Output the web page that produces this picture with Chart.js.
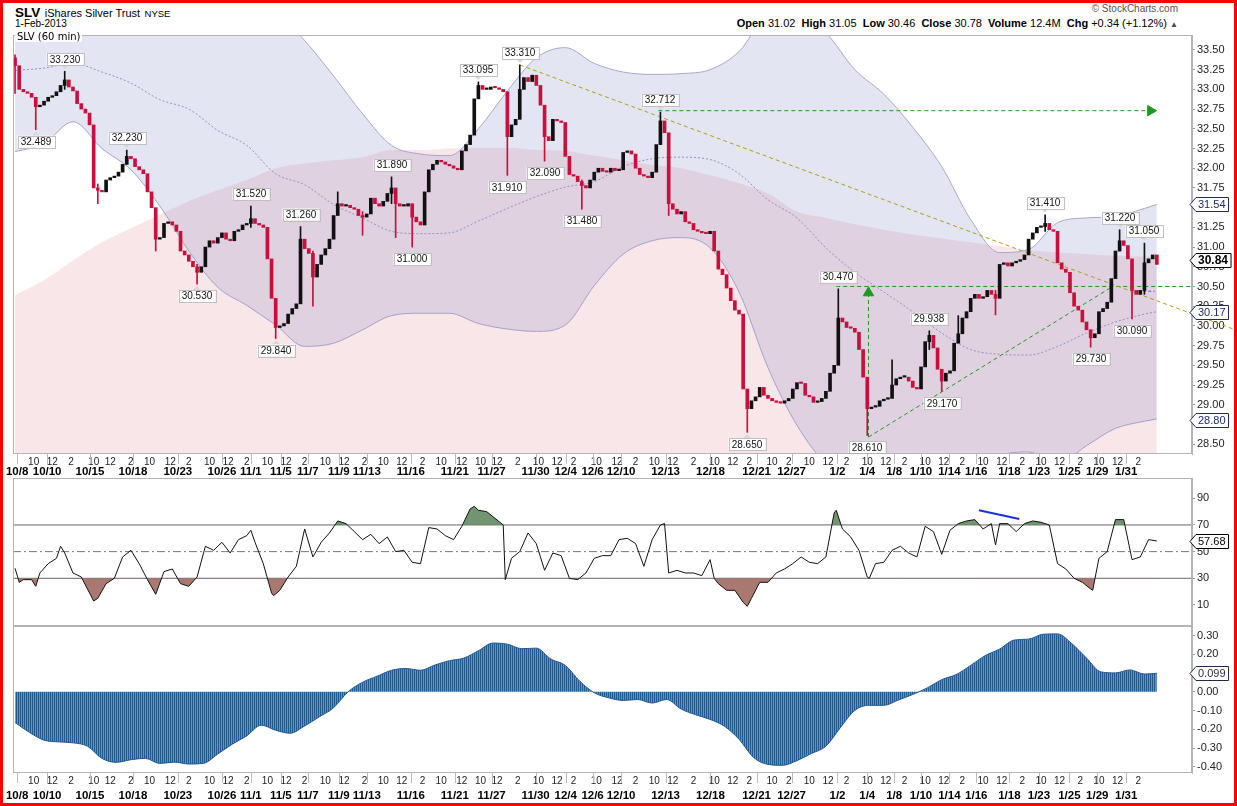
<!DOCTYPE html>
<html>
<head>
<meta charset="utf-8">
<script src="https://cdn.jsdelivr.net/npm/chart.js@4.4.1/dist/chart.umd.min.js"></script>
<style>
body { margin: 0; background: #fff; }
#wrap { position: relative; width: 1237px; height: 806px; overflow: hidden; background: #fff; font-family: 'Liberation Sans', Arial, sans-serif; }
#frame { position: absolute; left: 0; top: 0; width: 1237px; height: 806px; box-sizing: border-box; border: 3px solid #f00; pointer-events: none; z-index: 10; }
canvas { position: absolute; left: 0; }
.t { position: absolute; white-space: nowrap; color: #000; }
#legend { position: absolute; left: 15px; top: 31px; font: 10px 'DejaVu Sans', sans-serif; background: rgba(255,255,255,0.85); padding: 0 2px; z-index: 5; }
</style>
</head>
<body>
<div id="wrap">
  <div class="t" style="left:15px;top:3px;"><b style="font-size:13.5px;">SLV</b> <span style="font-size:11px;">iShares Silver Trust</span> <span style="font-size:9.5px;">NYSE</span></div>
  <div class="t" style="left:15px;top:18px;font-size:10px;">1-Feb-2013</div>
  <div class="t" style="right:59px;top:3px;font-size:10px;color:#555;">&#169; StockCharts.com</div>
  <div class="t" style="right:59px;top:17px;font-size:11px;"><b>Open</b> 31.02 &nbsp;<b>High</b> 31.05 &nbsp;<b>Low</b> 30.46 &nbsp;<b>Close</b> 30.78 &nbsp;<b>Volume</b> 12.4M &nbsp;<b>Chg</b> +0.34 (+1.12%) <span style="font-size:8px;color:#444;">&#9650;</span></div>
  <div id="legend">SLV (60 min)</div>
  <canvas id="priceChart" width="1237" height="450" style="top:28px;"></canvas>
  <canvas id="rsiChart" width="1237" height="148" style="top:478px;"></canvas>
  <canvas id="macdChart" width="1237" height="177" style="top:626px;"></canvas>
  <div id="frame"></div>
</div>
<script>
// x axis is in hourly bars (7 per trading day), candles sampled every 2 bars
const sampleStep = 2;
const xMin = -1, xMax = 569;

const firstOpen = 33.40;
const closes = [
  33.30, 33.00, 32.97, 32.95, 32.90, 32.78, 32.80, 32.85, 32.90, 32.92,
  32.97, 33.05, 33.12, 33.03, 32.98, 32.82, 32.75, 32.70, 32.55, 31.75,
  31.72, 31.70, 31.85, 31.88, 31.90, 31.95, 32.05, 32.15, 32.12, 32.02,
  31.98, 31.93, 31.70, 31.50, 31.10, 31.12, 31.30, 31.32, 31.28, 31.20,
  30.95, 30.90, 30.82, 30.75, 30.68, 30.75, 31.00, 31.08, 31.05, 31.12,
  31.18, 31.10, 31.08, 31.20, 31.22, 31.28, 31.30, 31.36, 31.30, 31.28,
  31.25, 30.85, 30.35, 29.98, 30.00, 30.03, 30.15, 30.22, 30.28, 31.10,
  30.98, 30.92, 30.62, 30.78, 30.90, 30.98, 31.10, 31.40, 31.55, 31.52,
  31.53, 31.50, 31.48, 31.40, 31.38, 31.42, 31.62, 31.55, 31.52, 31.58,
  31.68, 31.75, 31.55, 31.52, 31.52, 31.55, 31.38, 31.32, 31.28, 31.70,
  31.98, 32.05, 32.10, 32.08, 32.05, 32.03, 32.00, 31.98, 32.22, 32.30,
  32.42, 32.88, 33.05, 33.00, 33.00, 33.03, 33.02, 33.00, 32.97, 32.40,
  32.55, 32.62, 33.00, 33.15, 33.10, 33.18, 33.05, 32.80, 32.40, 32.35,
  32.62, 32.60, 32.58, 32.15, 31.92, 31.90, 31.83, 31.78, 31.75, 31.85,
  31.95, 32.00, 31.96, 31.95, 32.00, 31.97, 31.98, 32.20, 32.22, 32.18,
  32.00, 31.92, 31.90, 31.88, 31.95, 32.30, 32.60, 32.45, 31.55, 31.48,
  31.42, 31.45, 31.32, 31.30, 31.22, 31.20, 31.18, 31.17, 31.20, 30.95,
  30.72, 30.65, 30.48, 30.32, 30.20, 30.15, 29.20, 28.95, 29.05, 29.10,
  29.22, 29.12, 29.08, 29.05, 29.03, 29.02, 29.05, 29.08, 29.20, 29.28,
  29.27, 29.12, 29.10, 29.03, 29.04, 29.08, 29.17, 29.40, 29.50, 30.10,
  30.05, 29.98, 29.97, 29.92, 29.70, 29.35, 28.95, 28.97, 28.98, 29.05,
  29.07, 29.08, 29.25, 29.33, 29.35, 29.35, 29.30, 29.22, 29.20, 29.48,
  29.80, 29.88, 29.72, 29.45, 29.30, 29.40, 29.43, 29.78, 29.90, 30.10,
  30.18, 30.35, 30.40, 30.35, 30.37, 30.45, 30.40, 30.35, 30.78, 30.80,
  30.76, 30.80, 30.82, 30.84, 30.90, 31.10, 31.18, 31.25, 31.26, 31.30,
  31.22, 31.20, 30.80, 30.72, 30.68, 30.42, 30.25, 30.20, 30.05, 29.95,
  29.85, 29.90, 30.18, 30.22, 30.30, 30.60, 30.95, 31.08, 31.02, 30.85,
  30.45, 30.40, 30.45, 30.80, 30.85, 30.90, 30.78
];

// wicks that stick out (sample index, low, high)
const spikeIdx  = [0, 5, 12, 20, 27, 34, 44, 57, 63, 69, 72, 78, 84, 91, 92, 96, 112, 119, 122, 128, 137, 156, 158, 177, 199, 206, 212, 221, 224, 228, 237, 249, 260, 267, 270, 273];
const spikeLow  = [32.95, 32.489, 33.00, 31.55, 32.05, 30.95, 30.53, 31.25, 29.84, 30.30, 30.25, 31.45, 31.15, 31.55, 31.12, 31.00, 32.90, 31.91, 32.95, 32.09, 31.48, 32.30, 31.40, 28.65, 29.55, 28.61, 29.10, 29.70, 29.17, 29.80, 30.14, 31.20, 29.73, 30.95, 30.09, 30.40];
const spikeHigh = [33.44, 32.88, 33.23, 31.80, 32.23, 31.45, 30.78, 31.52, 30.05, 31.26, 30.95, 31.70, 31.45, 31.89, 31.60, 31.45, 33.095, 32.95, 33.31, 32.75, 31.85, 32.712, 32.40, 29.10, 30.47, 29.30, 29.57, 29.938, 29.45, 30.13, 30.45, 31.41, 29.95, 31.22, 30.65, 31.05];

// annotated highs / lows
const peakBars   = [24, 10, 54, 88, 114, 126, 138, 182, 192, 224, 238, 244, 256, 274, 312, 354, 398, 412, 442, 448, 498, 520, 534, 540, 546];
const peakValues = [33.230, 32.489, 32.230, 30.530, 31.520, 29.840, 31.260, 31.890, 31.000, 33.095, 31.910, 33.310, 32.090, 31.480, 32.712, 28.650, 30.470, 28.610, 29.938, 29.170, 31.410, 29.730, 31.220, 30.090, 31.050];
const peakSides  = ['H', 'L', 'H', 'L', 'H', 'L', 'H', 'H', 'L', 'H', 'L', 'H', 'L', 'L', 'H', 'L', 'H', 'L', 'H', 'L', 'H', 'L', 'H', 'L', 'H'];

// bollinger bands, sampled every 2 days
const bandBars = [0, 14, 28, 42, 56, 70, 84, 98, 112, 126, 140, 154, 168, 182, 196, 210, 224, 238, 252, 266, 280, 294, 308, 322, 336, 350, 364, 378, 392, 406, 420, 434, 448, 462, 476, 490, 504, 518, 532, 546, 552];
const blueUpper = [34.30, 34.30, 34.30, 34.40, 34.40, 34.30, 34.20, 34.10, 34.20, 34.00, 33.62, 33.17, 32.69, 32.29, 32.18, 32.16, 32.50, 32.98, 33.40, 33.53, 33.33, 33.22, 33.19, 33.20, 33.25, 33.48, 33.95, 34.00, 33.72, 33.25, 32.94, 32.52, 32.02, 31.35, 30.93, 30.97, 31.31, 31.37, 31.39, 31.49, 31.54];
const blueMid   = [33.24, 33.27, 33.33, 33.22, 33.08, 32.87, 32.75, 32.48, 32.29, 31.93, 31.79, 31.54, 31.37, 31.20, 31.17, 31.18, 31.33, 31.49, 31.64, 31.76, 31.83, 32.02, 32.12, 32.14, 32.11, 31.93, 31.60, 31.37, 30.99, 30.68, 30.43, 30.18, 29.91, 29.70, 29.64, 29.63, 29.74, 29.91, 30.05, 30.15, 30.18];
const blueLower = [32.21, 32.31, 32.59, 32.25, 31.98, 31.52, 30.95, 30.49, 30.26, 30.01, 29.74, 29.78, 29.95, 30.13, 30.16, 30.16, 30.03, 29.96, 29.93, 30.01, 30.51, 30.91, 31.08, 31.12, 30.99, 30.43, 29.47, 28.74, 28.26, 28.11, 27.92, 27.84, 27.80, 28.05, 28.35, 28.40, 28.25, 28.48, 28.70, 28.79, 28.82];
const pinkUpper = [30.39, 30.58, 30.83, 31.06, 31.24, 31.41, 31.58, 31.72, 31.85, 32.00, 32.06, 32.10, 32.14, 32.23, 32.23, 32.25, 32.26, 32.26, 32.23, 32.22, 32.16, 32.10, 32.04, 32.00, 31.91, 31.81, 31.68, 31.45, 31.37, 31.29, 31.22, 31.16, 31.11, 31.06, 31.01, 30.96, 30.93, 30.91, 30.89, 30.88, 30.87];
const pinkLower = [28.10, 28.05, 27.95, 27.90, 27.80, 27.75, 27.70, 27.65, 27.60, 27.55, 27.50, 27.50, 27.45, 27.40, 27.40, 27.40, 27.40, 27.45, 27.45, 27.50, 27.50, 27.50, 27.45, 27.40, 27.35, 27.30, 27.25, 27.20, 27.20, 27.15, 27.15, 27.10, 27.10, 27.10, 27.10, 27.15, 27.15, 27.20, 27.20, 27.25, 27.25];

const priceTicks = [28.50, 28.75, 29.00, 29.25, 29.50, 29.75, 30.00, 30.25, 30.50, 30.75, 31.00, 31.25, 31.50, 31.75, 32.00, 32.25, 32.50, 32.75, 33.00, 33.25, 33.50];

// RSI(14)
const rsiBars = [0, 2, 4, 8, 10, 12, 16, 20, 22, 24, 28, 32, 36, 38, 40, 44, 48, 52, 56, 60, 64, 68, 72, 76, 80, 84, 88, 92, 96, 100, 104, 108, 112, 114, 116, 120, 124, 125, 128, 132, 136, 140, 144, 148, 152, 156, 160, 164, 168, 172, 176, 180, 184, 188, 192, 196, 200, 204, 208, 212, 216, 220, 222, 224, 228, 232, 236, 237, 240, 244, 248, 252, 256, 260, 264, 268, 272, 276, 280, 284, 288, 292, 296, 300, 304, 308, 312, 314, 316, 320, 324, 328, 332, 336, 338, 340, 344, 348, 352, 354, 356, 360, 364, 368, 372, 376, 380, 384, 388, 392, 396, 397, 400, 404, 408, 412, 413, 416, 420, 424, 428, 432, 436, 440, 444, 448, 452, 456, 460, 464, 468, 472, 474, 476, 480, 484, 488, 492, 496, 500, 504, 508, 512, 516, 520, 521, 524, 528, 532, 536, 540, 544, 548, 552];
const rsiVals = [37.5, 27, 29, 29, 24, 34, 41, 45, 54, 49, 34, 31, 19, 13, 15, 26, 30, 46, 51, 41, 29, 18, 35, 37, 26, 24, 31, 54, 51, 57, 49, 59, 62, 66, 57, 41, 19, 17, 21, 31, 39, 67, 46, 57, 64, 73, 71, 65, 59, 63, 56, 61, 50, 51, 42, 41, 68, 67, 62, 59, 69, 82, 84, 81, 80, 75, 70, 29, 45, 50, 64, 56, 36, 49, 47, 30, 29, 34, 45, 47, 47, 59, 60, 56, 39, 59, 70, 71, 34, 36, 34, 34, 32, 44, 30, 26, 21, 21, 12, 9, 15, 27, 27, 34, 37, 41, 46, 42, 41, 46, 79, 81, 67, 61, 51, 31, 30, 41, 42, 51, 54, 49, 46, 69, 65, 48, 66, 71, 73, 74, 67, 71, 55, 71, 71, 65, 71, 73, 72, 70, 41, 37, 30, 27, 22, 21, 45, 50, 74, 74, 44, 46, 59, 58];
const rsiTicks = [10, 30, 50, 70, 90];
const rsiLevels = [30, 50, 70];

// MACD histogram, one reading per day
const macdBars = [0, 7, 14, 21, 28, 35, 42, 49, 56, 63, 70, 77, 84, 91, 98, 105, 112, 119, 126, 133, 140, 147, 154, 161, 168, 175, 182, 189, 196, 203, 210, 217, 224, 231, 238, 245, 252, 259, 266, 273, 280, 287, 294, 301, 308, 315, 322, 329, 336, 343, 350, 357, 364, 371, 378, 385, 392, 399, 406, 413, 420, 427, 434, 441, 448, 455, 462, 469, 476, 483, 490, 497, 504, 511, 518, 525, 532, 539, 546, 552];
const macdHist = [-0.164, -0.217, -0.258, -0.267, -0.272, -0.290, -0.355, -0.376, -0.362, -0.355, -0.382, -0.375, -0.385, -0.382, -0.332, -0.279, -0.235, -0.178, -0.205, -0.221, -0.182, -0.134, -0.085, 0.000, 0.051, 0.083, 0.115, 0.124, 0.115, 0.143, 0.166, 0.180, 0.219, 0.260, 0.254, 0.230, 0.233, 0.175, 0.141, 0.057, -0.005, -0.032, -0.046, -0.041, -0.060, -0.041, -0.092, -0.122, -0.147, -0.184, -0.253, -0.350, -0.387, -0.392, -0.367, -0.329, -0.290, -0.191, -0.099, -0.072, -0.072, -0.044, -0.014, 0.021, 0.065, 0.092, 0.141, 0.193, 0.228, 0.276, 0.281, 0.307, 0.309, 0.256, 0.180, 0.106, 0.101, 0.117, 0.095, 0.099];
const macdTicks = [0.30, 0.20, 0.10, 0.00, -0.10, -0.20, -0.30, -0.40];

// x axis labels
const hourPos = [9, 18, 27, 38, 46, 56, 65, 75, 84, 94, 103, 112, 122, 131, 140, 150, 159, 169, 178, 187, 197, 206, 216, 225, 233, 243, 253, 262, 270, 281, 291, 300, 309, 318, 328, 338, 347, 355, 366, 374, 384, 393, 402, 412, 421, 430, 440, 449, 458, 468, 477, 487, 496, 505, 515, 524, 533, 543];
const hourText = ['10', '12', '2', '10', '12', '2', '10', '12', '2', '10', '12', '2', '10', '12', '2', '10', '12', '2', '10', '12', '2', '10', '12', '10', '12', '2', '10', '12', '2', '10', '12', '2', '10', '12', '2', '10', '12', '2', '10', '2', '10', '12', '2', '10', '12', '2', '10', '12', '2', '10', '12', '2', '10', '12', '2', '10', '12', '2'];
const datePos = [1, 15.5, 36.2, 57, 78.7, 100, 114, 128.5, 141.5, 156.5, 170, 191.3, 212.6, 230.4, 251.7, 266.2, 279.2, 293, 314.5, 336.2, 358.5, 375.4, 397.6, 412, 425, 438, 451.7, 464.7, 480.7, 495, 509.7, 523.2, 537.2];
const dateText = ['10/8', '10/10', '10/15', '10/18', '10/23', '10/26', '11/1', '11/5', '11/7', '11/9', '11/13', '11/16', '11/21', '11/27', '11/30', '12/4', '12/6', '12/10', '12/13', '12/18', '12/21', '12/27', '1/2', '1/4', '1/8', '1/10', '1/14', '1/16', '1/18', '1/23', '1/25', '1/29', '1/31'];

const upColor = '#111111';
const downColor = '#c8103c';
const green = '#1e9a1e';
const sans = "'Liberation Sans', Arial, sans-serif";

// ---------- plugins ----------
const frameBox = {
    id: 'frameBox',
    afterDraw(chart) {
        const { ctx, chartArea: a } = chart;
        ctx.save();
        ctx.strokeStyle = '#b4b4b4';
        ctx.lineWidth = 1;
        ctx.strokeRect(Math.round(a.left) + 0.5, Math.round(a.top) + 0.5, Math.round(a.width) - 1, Math.round(a.height) - 1);
        ctx.restore();
    }
};

const dayMarks = {
    id: 'dayMarks',
    afterDraw(chart, args, opts) {
        if (!opts.on) return;
        const { ctx, chartArea: a } = chart;
        const x = chart.scales.x;
        ctx.save();
        ctx.strokeStyle = '#bbbbbb';
        ctx.lineWidth = 1;
        datePos.forEach(p => {
            const px = Math.round(x.getPixelForValue(p)) + 0.5;
            ctx.beginPath();
            ctx.moveTo(px, a.bottom);
            ctx.lineTo(px, a.bottom + 10);
            ctx.stroke();
        });
        ctx.restore();
    }
};

const tagPlugin = {
    id: 'tags',
    afterDraw(chart, args, opts) {
        const ctx = chart.ctx, y = chart.scales.y;
        const left = chart.chartArea.right - 2;
        (opts.items || []).forEach(t => {
            const py = Math.round(y.getPixelForValue(t.value)) + 0.5;
            ctx.save();
            ctx.font = (t.bold ? 'bold 12px ' : '11px ') + sans;
            const w = ctx.measureText(t.text).width + 5, h = 14;
            ctx.beginPath();
            ctx.moveTo(left, py);
            ctx.lineTo(left + 6, py - h / 2);
            ctx.lineTo(left + 6 + w, py - h / 2);
            ctx.lineTo(left + 6 + w, py + h / 2);
            ctx.lineTo(left + 6, py + h / 2);
            ctx.closePath();
            ctx.fillStyle = '#fff';
            ctx.fill();
            ctx.strokeStyle = t.color;
            ctx.lineWidth = 1;
            ctx.stroke();
            ctx.fillStyle = t.color;
            ctx.textBaseline = 'middle';
            ctx.fillText(t.text, left + 8, py + 0.5);
            ctx.restore();
        });
    }
};

const peakPlugin = {
    id: 'peaks',
    afterDatasetsDraw(chart, args, opts) {
        if (!opts.on) return;
        const { ctx } = chart;
        const x = chart.scales.x, y = chart.scales.y;
        ctx.save();
        ctx.font = '10px ' + sans;
        ctx.textAlign = 'center';
        ctx.textBaseline = 'middle';
        peakBars.forEach((b, i) => {
            const px = Math.round(x.getPixelForValue(b));
            const py = y.getPixelForValue(peakValues[i]);
            const up = peakSides[i] === 'H';
            const txt = peakValues[i].toFixed(3);
            const w = Math.ceil(ctx.measureText(txt).width) + 6, h = 12;
            const cy = up ? py - 12 : py + 12;
            const edge = up ? cy + h / 2 : cy - h / 2;
            ctx.fillStyle = '#d8d8d8';
            ctx.beginPath();
            ctx.moveTo(px, up ? py - 2 : py + 2);
            ctx.lineTo(px - 4, edge);
            ctx.lineTo(px + 4, edge);
            ctx.closePath();
            ctx.fill();
            ctx.fillStyle = '#fff';
            ctx.fillRect(px - w / 2, cy - h / 2, w, h);
            ctx.strokeStyle = '#c0c0c0';
            ctx.strokeRect(Math.round(px - w / 2) + 0.5, Math.round(cy - h / 2) + 0.5, w, h);
            ctx.fillStyle = '#111';
            ctx.fillText(txt, px, cy + 0.5);
        });
        ctx.restore();
    }
};

Chart.register(frameBox, dayMarks, tagPlugin, peakPlugin);

// ---------- helpers ----------
function pts(xs, ys) {
    return xs.map((v, i) => ({ x: v, y: ys[i] }));
}

function hourAxis(h) {
    return {
        type: 'linear', position: 'bottom', weight: 0, min: xMin, max: xMax, offset: false,
        grid: { display: false, drawTicks: false, offset: false }, border: { display: false },
        afterBuildTicks: ax => { ax.ticks = hourPos.map(v => ({ value: v })); },
        afterFit: ax => { ax.height = h; ax.paddingLeft = 0; ax.paddingRight = 0; },
        ticks: { autoSkip: false, maxRotation: 0, padding: 2, color: '#222', font: { size: 10, family: sans },
            callback: (v, i) => hourText[i] }
    };
}

function dateAxis(h) {
    return {
        type: 'linear', position: 'bottom', weight: 1, min: xMin, max: xMax, offset: false,
        grid: { display: false, drawTicks: false, offset: false }, border: { display: false },
        afterBuildTicks: ax => { ax.ticks = datePos.map(v => ({ value: v })); },
        afterFit: ax => { ax.height = h; ax.paddingLeft = 0; ax.paddingRight = 0; },
        ticks: { autoSkip: false, maxRotation: 0, padding: 0, color: '#000',
            font: { size: 11.5, weight: 'bold', family: sans },
            callback: (v, i) => dateText[i] }
    };
}

function rightAxis(min, max, ticks, fmt) {
    return {
        position: 'right', min: min, max: max,
        afterFit: ax => { ax.width = 45; ax.paddingTop = 0; ax.paddingBottom = 0; },
        afterBuildTicks: ax => { ax.ticks = ticks.map(v => ({ value: v })); },
        grid: { drawOnChartArea: false, drawTicks: true, tickLength: 3, color: '#999' },
        border: { display: true, color: '#b4b4b4' },
        ticks: { padding: 2, color: '#222', font: { size: 11, family: sans }, callback: fmt }
    };
}

// ---------- price panel ----------
const bodyData = closes.map((c, k) => ({ x: k * sampleStep, y: [k === 0 ? firstOpen : closes[k - 1], c] }));
const bodyColors = closes.map((c, k) => c >= (k === 0 ? firstOpen : closes[k - 1]) ? upColor : downColor);
const wickData = spikeIdx.map((k, i) => ({ x: k * sampleStep, y: [spikeLow[i], spikeHigh[i]] }));
const wickColors = spikeIdx.map(k => bodyColors[k]);

const bandLine = { type: 'line', pointRadius: 0, borderWidth: 1, cubicInterpolationMode: 'monotone' };

const priceChart = new Chart(document.getElementById('priceChart'), {
    type: 'bar',
    data: {
        datasets: [
            Object.assign({}, bandLine, { label: 'BB long upper', data: pts(bandBars, pinkUpper), borderWidth: 0,
                backgroundColor: 'rgba(220,130,140,0.2)', fill: '+1', order: 10 }),
            Object.assign({}, bandLine, { label: 'BB long lower', data: pts(bandBars, pinkLower), borderWidth: 0, fill: false, order: 10 }),
            Object.assign({}, bandLine, { label: 'BB upper', data: pts(bandBars, blueUpper), borderColor: '#a6a6cc',
                backgroundColor: 'rgba(120,125,190,0.2)', fill: '+1', order: 9 }),
            Object.assign({}, bandLine, { label: 'BB lower', data: pts(bandBars, blueLower), borderColor: '#a6a6cc', fill: false, order: 9 }),
            Object.assign({}, bandLine, { label: 'BB mid', data: pts(bandBars, blueMid), borderColor: '#9090c4',
                borderDash: [2, 2], fill: false, order: 8 }),
            { type: 'line', label: 'resistance', data: [{ x: 244, y: 33.31 }, { x: 590, y: 29.95 }], borderColor: '#a3a31c',
                borderWidth: 1, borderDash: [4, 3], pointRadius: 0, fill: false, clip: false, order: 4 },
            { type: 'line', label: 'target', data: [{ x: 311, y: 32.73 }, { x: 549, y: 32.73 }], borderColor: green,
                borderWidth: 1, borderDash: [4, 3], pointRadius: [0, 6], pointStyle: 'triangle', rotation: 90,
                pointBackgroundColor: green, pointBorderColor: green, fill: false, order: 4 },
            { type: 'line', label: 'breakout', data: [{ x: 397, y: 30.5 }, { x: xMax, y: 30.5 }], borderColor: green,
                borderWidth: 1, borderDash: [4, 3], pointRadius: 0, fill: false, order: 4 },
            { type: 'line', label: 'measure', data: [{ x: 412.6, y: 28.59 }, { x: 412.6, y: 30.42 }], borderColor: green,
                borderWidth: 1, borderDash: [4, 3], pointRadius: [0, 6], pointStyle: 'triangle', rotation: 0,
                pointBackgroundColor: green, pointBorderColor: green, fill: false, order: 4 },
            { type: 'line', label: 'support', data: [{ x: 412.6, y: 28.59 }, { x: 530, y: 30.49 }], borderColor: green,
                borderWidth: 1, borderDash: [4, 3], pointRadius: 0, fill: false, order: 4 },
            { type: 'line', label: 'pivot', data: [{ x: 543, y: 30.44 }, { x: 551, y: 30.44 }], borderColor: '#6b5bd6',
                borderWidth: 1, borderDash: [3, 2], pointRadius: 0, fill: false, order: 4 },
            { label: 'wicks', data: wickData, backgroundColor: wickColors, barThickness: 1, grouped: false, order: 2 },
            { label: 'SLV', data: bodyData, backgroundColor: bodyColors, barThickness: 3, minBarLength: 1.5, grouped: false, order: 1 }
        ]
    },
    options: {
        responsive: false,
        animation: false,
        events: [],
        layout: { padding: { left: 13, top: 2, right: 0, bottom: 0 } },
        scales: {
            x: hourAxis(11),
            xd: dateAxis(13),
            y: rightAxis(28.375, 33.69, priceTicks, v => v.toFixed(2))
        },
        plugins: {
            legend: { display: false },
            tooltip: { enabled: false },
            dayMarks: { on: true },
            peaks: { on: true },
            tags: { items: [
                { value: 31.54, text: '31.54', color: '#1c2a6e' },
                { value: 30.84, text: '30.84', color: '#000', bold: true },
                { value: 30.17, text: '30.17', color: '#1c2a6e' },
                { value: 28.81, text: '28.80', color: '#1c2a6e' }
            ] }
        }
    }
});

// ---------- RSI panel ----------
const rsiChart = new Chart(document.getElementById('rsiChart'), {
    type: 'line',
    data: {
        datasets: [
            { label: 'RSI', data: pts(rsiBars, rsiVals), borderColor: '#111', borderWidth: 1, pointRadius: 0,
                fill: { target: { value: 70 }, above: 'rgba(98,138,98,0.9)', below: 'rgba(0,0,0,0)' }, order: 1 },
            { label: 'RSI low', data: pts(rsiBars, rsiVals), borderWidth: 0, pointRadius: 0,
                fill: { target: { value: 30 }, above: 'rgba(0,0,0,0)', below: 'rgba(160,105,98,0.9)' }, order: 2 },
            { label: 'L30', data: [{ x: xMin, y: rsiLevels[0] }, { x: xMax, y: rsiLevels[0] }], borderColor: '#666', borderWidth: 1, pointRadius: 0, order: 3 },
            { label: 'L50', data: [{ x: xMin, y: rsiLevels[1] }, { x: xMax, y: rsiLevels[1] }], borderColor: '#777', borderWidth: 1,
                borderDash: [8, 3, 2, 3], pointRadius: 0, order: 3 },
            { label: 'L70', data: [{ x: xMin, y: rsiLevels[2] }, { x: xMax, y: rsiLevels[2] }], borderColor: '#666', borderWidth: 1, pointRadius: 0, order: 3 },
            { label: 'divergence', data: [{ x: 466, y: 81 }, { x: 485.5, y: 74.5 }], borderColor: '#1a30d8', borderWidth: 2, pointRadius: 0, order: 0 }
        ]
    },
    options: {
        responsive: false,
        animation: false,
        events: [],
        layout: { padding: { left: 13, top: 0, right: 0, bottom: 0 } },
        scales: {
            x: { type: 'linear', display: false, min: xMin, max: xMax },
            y: rightAxis(-5.75, 105.2, rsiTicks, v => String(v))
        },
        plugins: {
            legend: { display: false },
            tooltip: { enabled: false },
            tags: { items: [{ value: 57.68, text: '57.68', color: '#000' }] }
        }
    }
});

// ---------- MACD histogram panel ----------
function stripes() {
    const c = document.createElement('canvas');
    c.width = 2; c.height = 1;
    const g = c.getContext('2d');
    g.fillStyle = '#24598c'; g.fillRect(0, 0, 1, 1);
    g.fillStyle = '#4f98d2'; g.fillRect(1, 0, 1, 1);
    return g.createPattern(c, 'repeat');
}

const macdChart = new Chart(document.getElementById('macdChart'), {
    type: 'line',
    data: {
        datasets: [
            { label: 'MACD hist', data: pts(macdBars, macdHist), borderColor: '#24588a', borderWidth: 1, pointRadius: 0,
                backgroundColor: stripes(), fill: 'origin', cubicInterpolationMode: 'monotone' }
        ]
    },
    options: {
        responsive: false,
        animation: false,
        events: [],
        layout: { padding: { left: 13, top: 0, right: 0, bottom: 0 } },
        scales: {
            x: hourAxis(16),
            xd: dateAxis(14),
            y: rightAxis(-0.433, 0.351, macdTicks, v => v.toFixed(2))
        },
        plugins: {
            legend: { display: false },
            tooltip: { enabled: false },
            dayMarks: { on: true },
            tags: { items: [{ value: 0.099, text: '0.099', color: '#1c2a4e' }] }
        }
    }
});
</script>
</body>
</html>
